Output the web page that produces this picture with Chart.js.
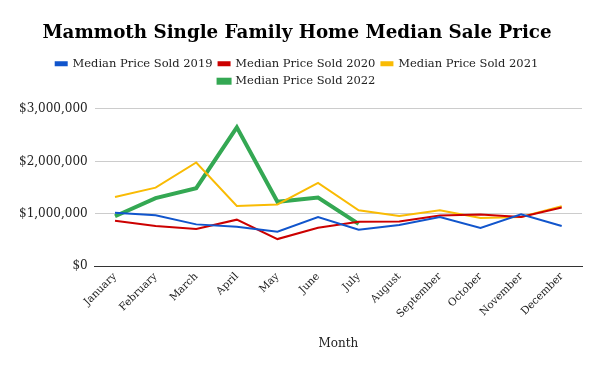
<!DOCTYPE html>
<html>
<head>
<meta charset="utf-8">
<script src="https://cdn.jsdelivr.net/npm/chart.js@4"></script>
<style>
  html, body { margin: 0; padding: 0; background: #fff; }
  #wrap { width: 600px; height: 371px; }
</style>
</head>
<body>
<div id="wrap"><canvas id="chart"></canvas></div>
<script>
// Monthly median sale prices
const months = ["January", "February", "March", "April", "May", "June",
  "July", "August", "September", "October", "November", "December"];

const sold2019 = [1020000, 975000, 800000, 755000, 660000, 940000, 700000, 790000, 940000, 730000, 990000, 770000];
const sold2020 = [870000, 770000, 710000, 890000, 520000, 735000, 850000, 855000, 970000, 990000, 940000, 1120000];
const sold2021 = [1320000, 1500000, 1980000, 1150000, 1180000, 1590000, 1070000, 960000, 1070000, 920000, 940000, 1145000];
const sold2022 = [955000, 1300000, 1490000, 2650000, 1230000, 1310000, 810000, null, null, null, null, null];

const yTicks = [0, 1000000, 2000000, 3000000];

const FONT = "Georgia, 'DejaVu Serif', serif";

function series(label, data, color, width) {
  return {
    label: label,
    data: data,
    borderColor: color,
    backgroundColor: color,
    borderWidth: width,
    pointRadius: 0,
    tension: 0,
    spanGaps: false
  };
}

// extra room between the legend and the plot
const legendGap = {
  id: "legendGap",
  beforeInit(chart) {
    const fit = chart.legend.fit;
    chart.legend.fit = function () {
      fit.bind(chart.legend)();
      this.height += 12;
    };
  }
};

new Chart(document.getElementById("chart"), {
  type: "line",
  data: {
    labels: months,
    datasets: [
      series("Median Price Sold 2019", sold2019, "#1155cc", 2),
      series("Median Price Sold 2020", sold2020, "#cc0000", 2),
      series("Median Price Sold 2021", sold2021, "#f9bb04", 2),
      series("Median Price Sold 2022", sold2022, "#34a853", 4)
    ]
  },
  plugins: [legendGap],
  options: {
    responsive: true,
    maintainAspectRatio: false,
    animation: false,
    layout: { padding: { left: 12, right: 18, top: 6, bottom: 16 } },
    plugins: {
      title: {
        display: true,
        text: "Mammoth Single Family Home Median Sale Price",
        color: "#000",
        font: { family: FONT, size: 18.3, weight: "bold" },
        padding: { top: 16, bottom: 8 }
      },
      legend: {
        position: "top",
        labels: {
          color: "#222",
          font: { family: FONT, size: 11.5 },
          boxWidth: 11,
          boxHeight: 3,
          padding: 6
        }
      },
      tooltip: { enabled: false }
    },
    scales: {
      x: {
        offset: true,
        grid: { display: false, drawTicks: false },
        border: { display: true, color: "#333", width: 1 },
        ticks: {
          color: "#222",
          font: { family: FONT, size: 10.5 },
          maxRotation: 45,
          minRotation: 45,
          padding: 4
        },
        title: {
          display: true,
          text: "Month",
          color: "#222",
          font: { family: FONT, size: 12 },
          padding: { top: 12 }
        }
      },
      y: {
        min: 0,
        max: 3000000,
        afterBuildTicks(axis) {
          axis.ticks = yTicks.map(v => ({ value: v }));
        },
        grid: { color: "#cccccc", drawTicks: false },
        border: { display: false },
        ticks: {
          color: "#222",
          font: { family: FONT, size: 12 },
          padding: 7,
          callback: v => "$" + v.toLocaleString("en-US")
        }
      }
    }
  }
});
</script>
</body>
</html>
